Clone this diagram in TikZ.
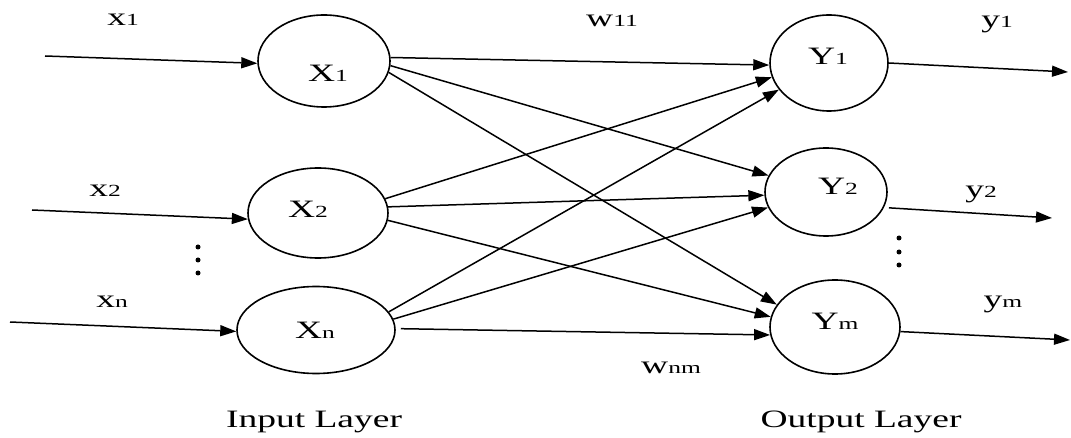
\documentclass[tikz,border=0pt]{standalone}
\usepackage{fontspec}
\setmainfont{Liberation Serif}
\usetikzlibrary{arrows.meta,shapes.geometric}

% wide lettering and small baseline indices
\newcommand{\stretchtxt}[1]{\scalebox{1.5}[1]{#1}}
\newcommand{\lo}[1]{\scalebox{0.68}{#1}}

\tikzset{
  neuron/.style={draw, ellipse, line width=1.6pt, inner sep=0pt},
  link/.style={line width=1.5pt, -{Triangle[length=16pt,width=11pt]}},
  lbl/.style={anchor=base, inner sep=0pt, font=\fontsize{25}{29}\selectfont},
  dot/.style={circle, fill, inner sep=0pt, minimum size=5pt},
}

\begin{document}
\begin{tikzpicture}[x=1pt,y=-1pt]
\useasboundingbox (0,0) rectangle (1071,438);

% input layer
\node[neuron, minimum width=132pt, minimum height=92pt] (X1) at (324,61) {};
\node[neuron, minimum width=140pt, minimum height=90pt] (X2) at (318,213) {};
\node[neuron, minimum width=158pt, minimum height=87pt] (Xn) at (316,330) {};

% output layer
\node[neuron, minimum width=118pt, minimum height=96pt] (Y1) at (829,63) {};
\node[neuron, minimum width=122pt, minimum height=88pt] (Y2) at (826,192) {};
\node[neuron, minimum width=130pt, minimum height=94pt] (Ym) at (835,327) {};

% neuron names
\node[lbl] (tX1) at (328,82) {\stretchtxt{X\lo{1}}};
\node[lbl] (tX2) at (308,218) {\stretchtxt{X\lo{2}}};
\node[lbl] (tXn) at (315,338) {\stretchtxt{X\lo{n}}};
\node[lbl] (tY1) at (828,65) {\stretchtxt{Y\lo{1}}};
\node[lbl] (tY2) at (838,195) {\stretchtxt{Y\lo{2}}};
\node[lbl] (tYm) at (835,330) {\stretchtxt{Y\lo{m}}};

% weighted connections
\draw[link] (X1.3) -- (Y1.182);
\draw[link] (X1.-4) -- (Y2.164);
\draw[link] (X1.-10) -- (Ym.159);
\draw[link] (X2.12) -- (Y1.194);
\draw[link] (X2.5) -- (Y2.183);
\draw[link] (X2.-6) -- (Ym.171);
\draw[link] (Xn.14) -- (Y1.208);
\draw[link] (Xn.8) -- (Y2.195);
\draw[link, shorten <=5pt] (Xn.1) -- (Ym.187);

% inputs
\coordinate (in1) at (45,56);
\coordinate (in2) at (32,210);
\coordinate (inn) at (10,322);
\draw[link] (in1) -- (X1.182);
\draw[link] (in2) -- (X2.185);
\draw[link] (inn) -- (Xn.181);

% outputs
\coordinate (out1) at (1068,72);
\coordinate (out2) at (1052,218);
\coordinate (outm) at (1070,340);
\draw[link] (Y1.east) -- (out1);
\draw[link, shorten <=5pt] (Y2.-15) -- (out2);
\draw[link] (Ym.-4) -- (outm);

% ellipsis dots
\node[dot] (dl1) at (198,247) {};
\node[dot] (dl2) at (198,260) {};
\node[dot] (dl3) at (198,273) {};
\node[dot] (dr1) at (899,238) {};
\node[dot] (dr2) at (899,252) {};
\node[dot] (dr3) at (899,265) {};

% signal and weight labels
\node[lbl] (lx1) at (123,26) {\stretchtxt{x\lo{1}}};
\node[lbl] (lx2) at (105,197) {\stretchtxt{x\lo{2}}};
\node[lbl] (lxn) at (112,308) {\stretchtxt{x\lo{n}}};
\node[lbl] (ly1) at (997,28) {\stretchtxt{y\lo{1}}};
\node[lbl] (ly2) at (981,198) {\stretchtxt{y\lo{2}}};
\node[lbl] (lym) at (1003,308) {\stretchtxt{y\lo{m}}};
\node[lbl] (w11) at (612,27) {\stretchtxt{w\lo{11}}};
\node[lbl] (wnm) at (671,373) {\stretchtxt{w\lo{nm}}};

% layer captions
\node[lbl] (inlayer) at (314,427) {\stretchtxt{Input Layer}};
\node[lbl] (outlayer) at (861,427) {\stretchtxt{Output Layer}};
\end{tikzpicture}
\end{document}
